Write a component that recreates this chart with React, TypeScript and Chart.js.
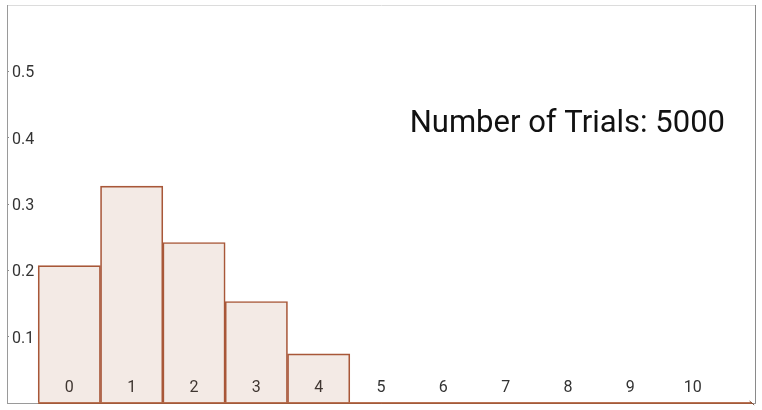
import React, { useEffect, useRef } from "react";
import { Chart, registerables } from "chart.js";

Chart.register(...registerables);

const categories = [0, 1, 2, 3, 4, 5, 6, 7, 8, 9, 10];
const proportions = [0.207, 0.327, 0.242, 0.153, 0.074, 0, 0, 0, 0, 0, 0];
const yTickValues = [0.1, 0.2, 0.3, 0.4, 0.5];
const baselineX = [-0.5, 10.95];
const trials = 5000;
const annotationText = `Number of Trials: ${trials}`;

const annotationPlugin = {
  id: "trialsText",
  afterDraw(chart: any) {
    const { ctx, chartArea } = chart;
    ctx.save();
    ctx.font = "31px Roboto";
    ctx.fillStyle = "#111";
    ctx.textAlign = "right";
    ctx.textBaseline = "alphabetic";
    ctx.fillText(annotationText, chartArea.right - 30, chartArea.top + 127);
    ctx.restore();
  },
};

export default function App() {
  const ref = useRef<HTMLCanvasElement | null>(null);

  useEffect(() => {
    document.body.style.margin = "0";
    if (!ref.current) return;
    const chart = new Chart(ref.current, {
      type: "bar",
      data: {
        datasets: [
          {
            type: "line",
            data: baselineX.map((x) => ({ x, y: 0 })),
            borderColor: "#a3441a",
            borderWidth: 1.6,
            pointRadius: [0, 3],
            pointStyle: "line",
            pointRotation: 40,
            pointBorderColor: "#7a4a30",
            pointBorderWidth: 1,
            clip: false,
            order: 0,
          } as any,
          {
            type: "bar",
            data: categories.map((c, i) => ({ x: c, y: proportions[i] })),
            backgroundColor: "rgba(160,82,45,0.12)",
            borderColor: "#a9583a",
            borderWidth: 1,
            barPercentage: 1,
            categoryPercentage: 1,
            order: 1,
          } as any,
        ],
      },
      options: {
        responsive: false,
        animation: false,
        layout: { padding: { left: 7, right: 7, top: 4, bottom: 7 } },
        plugins: {
          legend: { display: false },
          tooltip: { enabled: false },
          title: { display: false },
        },
        scales: {
          x: {
            type: "linear",
            min: -1,
            max: 11,
            offset: false,
            afterFit: (s: any) => {
              s.height = 0;
              s.paddingLeft = 0;
              s.paddingRight = 0;
            },
            ticks: {
              stepSize: 1,
              autoSkip: false,
              maxRotation: 0,
              mirror: true,
              padding: 5,
              color: "#333",
              font: { family: "Roboto", size: 16 },
              callback: (v: any) =>
                categories.includes(Number(v)) ? String(v) : "",
            },
            grid: {
              offset: false,
              drawTicks: false,
              color: (ctx: any) =>
                ctx.tick && ctx.tick.value === 11 ? "#8a8a8a" : "rgba(0,0,0,0)",
            },
            border: { display: true, color: "#9a9a9a", width: 1 },
          } as any,
          y: {
            type: "linear",
            min: 0,
            max: 0.6,
            afterFit: (s: any) => {
              s.width = 0;
              s.paddingTop = 0;
              s.paddingBottom = 0;
            },
            ticks: {
              stepSize: 0.1,
              mirror: true,
              padding: 5,
              labelOffset: 2,
              color: "#333",
              font: { family: "Roboto", size: 16 },
              callback: (v: any) => {
                const n = Number(v);
                return yTickValues.some((t) => Math.abs(t - n) < 1e-6)
                  ? n.toFixed(1)
                  : "";
              },
            },
            grid: {
              drawTicks: true,
              tickLength: -2,
              color: (ctx: any) =>
                ctx.tick && Math.abs(ctx.tick.value - 0.6) < 1e-6
                  ? "#dcdcdc"
                  : "rgba(0,0,0,0)",
              tickColor: (ctx: any) =>
                ctx.tick &&
                yTickValues.some((t) => Math.abs(t - ctx.tick.value) < 1e-6)
                  ? "#8a8a8a"
                  : "rgba(0,0,0,0)",
            },
            border: { display: true, color: "#9a9a9a", width: 1 },
          } as any,
        },
      },
      plugins: [annotationPlugin],
    });
    return () => chart.destroy();
  }, []);

  return (
    <div style={{ width: 762, height: 410 }}>
      <canvas ref={ref} width={762} height={410} style={{ display: "block" }} />
    </div>
  );
}
